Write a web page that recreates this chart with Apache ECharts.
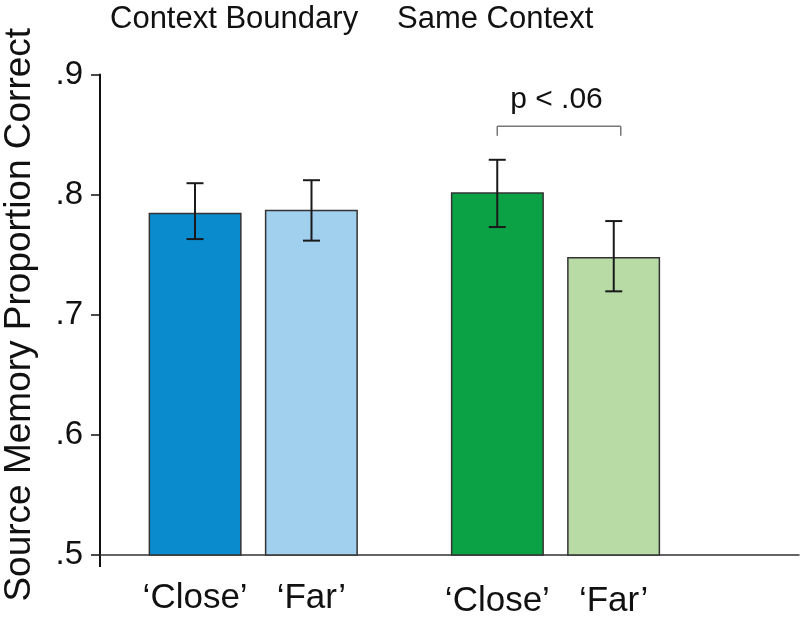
<!DOCTYPE html>
<html>
<head>
<meta charset="utf-8">
<script src="https://cdn.jsdelivr.net/npm/echarts@6/dist/echarts.min.js"></script>
<style>html,body{margin:0;padding:0;background:#fff;}#c{width:801px;height:617px;}</style>
</head>
<body>
<div id="c"></div>
<script>
// ---- data ----
const groups = ['Context Boundary', 'Same Context'];
const conditions = ['\u2018Close\u2019', '\u2018Far\u2019'];
const closeMean = [0.785, 0.802];
const closeLower = [0.763, 0.773];
const closeUpper = [0.8095, 0.829];
const farMean = [0.7875, 0.748];
const farLower = [0.7617, 0.7195];
const farUpper = [0.812, 0.778];
const yTicks = [0.5, 0.6, 0.7, 0.8, 0.9];
const sigText = 'p < .06';
const sigLevel = [0.857, 0.849];
const sigTextLevel = 0.879;

const closeColors = ['#0a8bcd', '#0ba246'];
const farColors = ['#a1cfee', '#b8dba5'];

const FONT = '"Liberation Sans", Arial, Helvetica, sans-serif';
const BAR_W = 93;
const HALF = 58.25; // px from group centre to bar centre
const LABEL_DIST = [25, 28];

const chart = echarts.init(document.getElementById('c'));

function barData(means, colors) {
  return means.map((v, i) => ({ value: [i, v], itemStyle: { color: colors[i] },
    label: { distance: LABEL_DIST[i] } }));
}

const errData = [];
groups.forEach((g, i) => {
  errData.push([i, closeLower[i], closeUpper[i], -1]);
  errData.push([i, farLower[i], farUpper[i], 1]);
});

const option = {
  animation: false,
  backgroundColor: '#fff',
  grid: { left: 100, right: 2, top: 74.5, bottom: 62, containLabel: false, outerBoundsMode: 'none' },
  xAxis: {
    type: 'value', min: -0.507, max: 1.8056,
    axisLine: { show: true, lineStyle: { color: '#333', width: 1.5 } },
    axisTick: { show: false }, axisLabel: { show: false }, splitLine: { show: false }
  },
  yAxis: {
    type: 'value', min: 0.5, max: 0.9, interval: 0.1,
    name: 'Source Memory Proportion Correct',
    nameLocation: 'middle', nameRotate: 90, nameGap: 62,
    nameTextStyle: { fontFamily: FONT, fontSize: 37, color: '#111' },
    axisLine: { show: true, onZero: false, lineStyle: { color: '#111', width: 2 } },
    axisTick: { show: true, length: 9, lineStyle: { color: '#111', width: 1.5 } },
    axisLabel: {
      fontFamily: FONT, fontSize: 33, color: '#111', margin: 17,
      formatter: v => yTicks.includes(+v.toFixed(1)) ? v.toFixed(1).replace(/^0/, '') : ''
    },
    splitLine: { show: false }
  },
  series: [
    {
      type: 'bar', name: conditions[0], barWidth: BAR_W, barGap: '25%',
      data: barData(closeMean, closeColors),
      itemStyle: { borderColor: '#333', borderWidth: 1.5 },
      label: { show: true, position: 'bottom', distance: 25, formatter: conditions[0],
               fontFamily: FONT, fontSize: 35, color: '#111' }
    },
    {
      type: 'bar', name: conditions[1], barWidth: BAR_W, barGap: '25%',
      data: barData(farMean, farColors),
      itemStyle: { borderColor: '#333', borderWidth: 1.5 },
      label: { show: true, position: 'bottom', distance: 25, formatter: conditions[1],
               fontFamily: FONT, fontSize: 35, color: '#111' }
    },
    {
      type: 'custom', data: errData, z: 10,
      renderItem: (params, api) => {
        const side = api.value(3);
        const lo = api.coord([api.value(0), api.value(1)]);
        const hi = api.coord([api.value(0), api.value(2)]);
        const x = lo[0] + side * HALF;
        const cap = 8.5;
        const st = { stroke: '#1a1a1a', lineWidth: 2 };
        return { type: 'group', children: [
          { type: 'line', shape: { x1: x, y1: lo[1], x2: x, y2: hi[1] }, style: st },
          { type: 'line', shape: { x1: x - cap, y1: lo[1], x2: x + cap, y2: lo[1] }, style: st },
          { type: 'line', shape: { x1: x - cap, y1: hi[1], x2: x + cap, y2: hi[1] }, style: st }
        ]};
      }
    },
    {
      type: 'custom', data: [[1, sigLevel[0], sigLevel[1], sigTextLevel]], z: 10,
      renderItem: (params, api) => {
        const top = api.coord([api.value(0), api.value(1)]);
        const bot = api.coord([api.value(0), api.value(2)]);
        const txt = api.coord([api.value(0), api.value(3)]);
        const x1 = top[0] - HALF, x2 = top[0] + HALF + 7;
        const st = { stroke: '#777', lineWidth: 1.5, fill: null };
        return { type: 'group', children: [
          { type: 'line', shape: { x1: x1, y1: top[1], x2: x2, y2: top[1] }, style: st },
          { type: 'line', shape: { x1: x1, y1: top[1], x2: x1, y2: bot[1] }, style: st },
          { type: 'line', shape: { x1: x2, y1: top[1], x2: x2, y2: bot[1] }, style: st },
          { type: 'text', style: { text: sigText, x: top[0] + 1, y: txt[1], align: 'center', verticalAlign: 'middle',
            font: '30px ' + FONT, fill: '#111' } }
        ]};
      }
    }
  ],
  graphic: [
    { type: 'line', shape: { x1: 100, y1: 555, x2: 100, y2: 567 }, style: { stroke: '#111', lineWidth: 2 } },
    { type: 'text', left: 110, top: 4, style: { text: groups[0], font: '31px ' + FONT, fill: '#111' } },
    { type: 'text', left: 397, top: 4, style: { text: groups[1], font: '31px ' + FONT, fill: '#111' } }
  ]
};
chart.setOption(option);
</script>
</body>
</html>
